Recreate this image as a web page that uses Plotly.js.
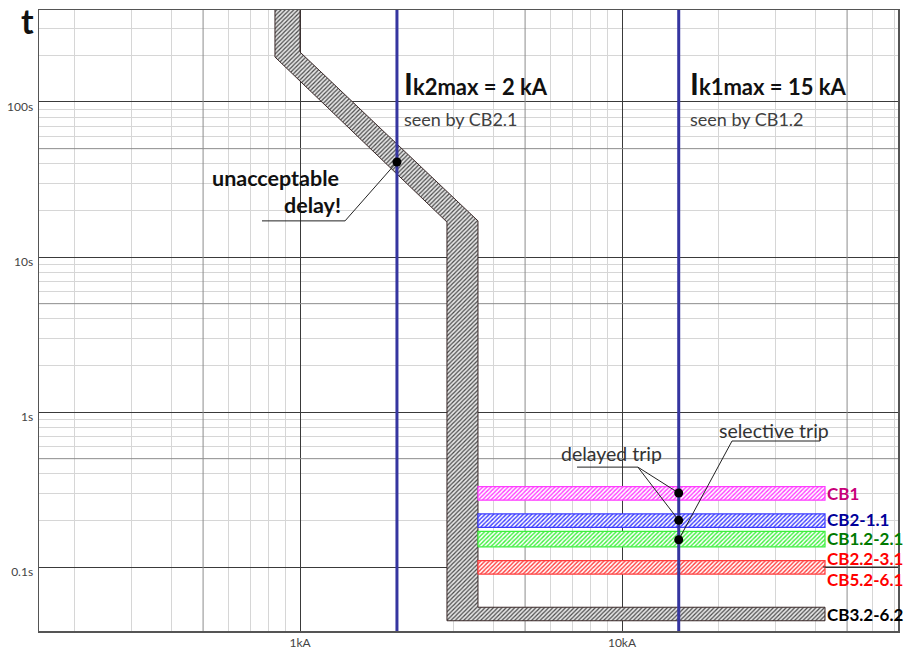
<!DOCTYPE html>
<html>
<head>
<meta charset="utf-8">
<script src="https://cdn.plot.ly/plotly-3.0.1.min.js"></script>
<style>html,body{margin:0;padding:0;background:#fff;}#chart{width:921px;height:650px;}</style>
</head>
<body>
<div id="chart"></div>
<script>
// ---- data ----
const xTickVals = [1, 10];
const xTickText = ['1kA', '10kA'];
const yTickVals = [0.1, 1, 10, 100];
const yTickText = ['0.1s', '1s', '10s', '100s'];

// short-circuit currents (kA)
const ikValues = [2, 15];

// CB3.2-6.2 tripping curve band (kA, s)
const curveUpperX = [1.0, 1.0, 3.57, 3.57, 42.7, 42.7];
const curveUpperY = [400, 210, 17.1, 0.055, 0.055, 0.045];
const curveLowerX = [0.836, 0.836, 2.86, 2.86, 42.7];
const curveLowerY = [400, 195, 16.8, 0.045, 0.045];

// selective delay bands (s)
const bandNames = ['CB1', 'CB2-1.1', 'CB1.2-2.1', 'CB2.2-3.1 / CB5.2-6.1'];
const bandLow  = [0.27, 0.18, 0.135, 0.09];
const bandHigh = [0.33, 0.22, 0.17, 0.11];
const bandStartX = 3.57;
const bandEndX = 42.7;

// trip points
const dotX = [2, 15, 15, 15];
const dotY = [41, 0.3, 0.2, 0.15];

// right-hand labels
const labelNames = ['CB1', 'CB2-1.1', 'CB1.2-2.1', 'CB2.2-3.1', 'CB5.2-6.1', 'CB3.2-6.2'];

// ---- layout helpers ----
const X_RANGE = [-0.8106, 1.8571];
const Y_RANGE = [-1.4129, 2.5935];
const yMin = Math.pow(10, Y_RANGE[0]), yMax = Math.pow(10, Y_RANGE[1]);
const L = 39, R = 898, T = 10, B = 631;
const px = v => (v - L) / (R - L);
const py = v => (B - v) / (B - T);

const FONT = 'Lato, "Open Sans", sans-serif';
const traces = [];

// minor grid values
const xMinor = [], yMinor = [];
[0.1, 1, 10].forEach(d => { for (let k = 2; k <= 9; k++) if (k !== 5) xMinor.push(k * d); });
[0.1, 1, 10].forEach(d => { for (let k = 2; k <= 9; k++) if (k !== 5) yMinor.push(k * d); });
yMinor.push(200, 300);

// mid (x5) grid lines
[0.5, 5, 50].forEach(v => traces.push({x: [v, v], y: [yMin, yMax], mode: 'lines', line: {color: '#8c8c8c', width: 1}, hoverinfo: 'skip', showlegend: false}));
[0.5, 5, 50].forEach(v => traces.push({x: [0.1, 100], y: [v, v], mode: 'lines', line: {color: '#8c8c8c', width: 1}, hoverinfo: 'skip', showlegend: false}));

// CB3.2-6.2 curve band polygon
const polyX = curveUpperX.concat(curveLowerX.slice().reverse());
const polyY = curveUpperY.concat(curveLowerY.slice().reverse());
traces.push({
  x: polyX, y: polyY, mode: 'lines', fill: 'toself',
  fillcolor: '#e4e4e4',
  fillpattern: {shape: '/', fgcolor: '#4a4a4a', bgcolor: '#e6e6e6', size: 3, solidity: 0.4},
  line: {color: '#3a2828', width: 1}, hoverinfo: 'skip', showlegend: false
});

// colored delay bands
const bandFg = ['#ff3cff', '#3a3aff', '#3cf03c', '#ff3c3c'];
bandNames.forEach((n, i) => {
  traces.push({
    x: [bandStartX, bandEndX, bandEndX, bandStartX, bandStartX],
    y: [bandLow[i], bandLow[i], bandHigh[i], bandHigh[i], bandLow[i]],
    mode: 'lines', fill: 'toself', name: n,
    fillcolor: '#ffffff',
    fillpattern: {shape: '/', fgcolor: bandFg[i], bgcolor: '#ffffff', size: 3, solidity: 0.45},
    line: {color: bandFg[i], width: 1.2}, hoverinfo: 'skip', showlegend: false
  });
});

// Ik vertical lines
ikValues.forEach(v => traces.push({x: [v, v], y: [yMin, yMax], mode: 'lines', line: {color: '#3535a0', width: 3}, hoverinfo: 'skip', showlegend: false}));

// leader lines
const leaders = [
  {x: [2, 1.38, 0.762], y: [41, 17.1, 17.1]},
  {x: [7.25, 11.2, 15], y: [0.441, 0.441, 0.3]},
  {x: [11.2, 15], y: [0.441, 0.2]},
  {x: [41.2, 21.96, 15], y: [0.65, 0.65, 0.15]},
  {x: [42.1, 80], y: [0.1, 0.1]}
];
leaders.forEach(l => traces.push({x: l.x, y: l.y, mode: 'lines', line: {color: '#222', width: 1}, hoverinfo: 'skip', showlegend: false}));

// dots
traces.push({x: dotX, y: dotY, mode: 'markers', marker: {color: '#000', size: 9}, hoverinfo: 'skip', showlegend: false});

// annotations
const ann = [];
function addText(text, x, y, opts) {
  ann.push(Object.assign({text: text, xref: 'paper', yref: 'paper', x: px(x), y: py(y), xanchor: 'left', yanchor: 'middle', showarrow: false,
    borderpad: 0, font: {family: FONT, size: 16, color: '#333'}}, opts || {}));
}
addText('<b>t</b>', 27, 21, {xanchor: 'center', font: {family: FONT, size: 34, color: '#111'}});
addText('<b><span style="font-size:30px">I</span>k2max = 2 kA</b>', 403, 83, {font: {family: FONT, size: 22, color: '#111'}});
addText('seen by CB2.1', 403, 119, {font: {family: FONT, size: 18, color: '#404040'}});
addText('<b><span style="font-size:30px">I</span>k1max = 15 kA</b>', 689, 83, {font: {family: FONT, size: 22, color: '#111'}});
addText('seen by CB1.2', 689, 119, {font: {family: FONT, size: 18, color: '#404040'}});
addText('<b>unacceptable</b>', 340, 178, {xanchor: 'right', font: {family: FONT, size: 21.5, color: '#111'}});
addText('<b>delay!</b>', 342, 205, {xanchor: 'right', font: {family: FONT, size: 21.5, color: '#111'}});
addText('delayed trip', 560, 453, {font: {family: FONT, size: 19.5, color: '#333'}});
addText('selective trip', 718, 430, {font: {family: FONT, size: 19.5, color: '#333'}});
const labelColors = ['#c8007a', '#00009a', '#007a00', '#ff0000', '#ff0000', '#000000'];
const labelYpx = [493, 519, 538, 558, 579, 614];
labelNames.forEach((n, i) => addText('<b>' + n + '</b>', 826, labelYpx[i], {font: {family: FONT, size: 17, color: labelColors[i]}}));

const layout = {
  width: 921, height: 650,
  margin: {l: L, r: 921 - R, t: T, b: 650 - B, pad: 0},
  paper_bgcolor: '#ffffff', plot_bgcolor: '#ffffff',
  showlegend: false,
  xaxis: {
    type: 'log', range: X_RANGE, tickvals: xTickVals, ticktext: xTickText, ticks: '',
    showgrid: true, gridcolor: '#3a3a3a', gridwidth: 1, zeroline: false,
    showline: true, mirror: true, linecolor: '#555', linewidth: 1.5,
    tickfont: {family: FONT, size: 12, color: '#444'},
    minor: {tickvals: xMinor, showgrid: true, gridcolor: '#d6d6d6', gridwidth: 1, ticks: ''}
  },
  yaxis: {
    type: 'log', range: Y_RANGE, tickvals: yTickVals, ticktext: yTickText, ticks: '',
    showgrid: true, gridcolor: '#3a3a3a', gridwidth: 1, zeroline: false,
    showline: true, mirror: true, linecolor: '#555', linewidth: 1.5,
    tickfont: {family: FONT, size: 12, color: '#444'}, ticklabelshift: 5, ticklabelstandoff: 2,
    minor: {tickvals: yMinor, showgrid: true, gridcolor: '#d6d6d6', gridwidth: 1, ticks: ''}
  },
  annotations: ann
};

Plotly.newPlot('chart', traces, layout, {staticPlot: true, displayModeBar: false});
</script>
</body>
</html>
